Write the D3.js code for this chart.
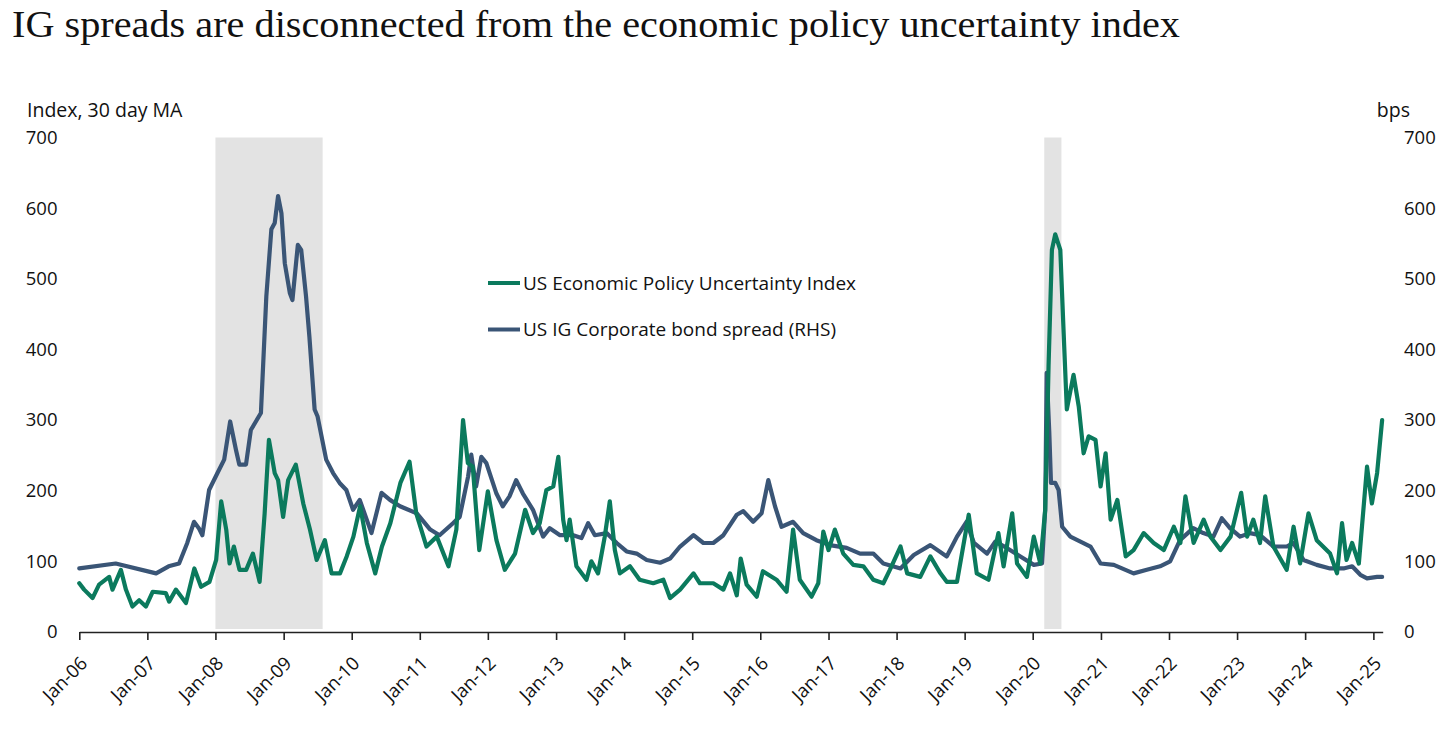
<!DOCTYPE html>
<html>
<head>
<meta charset="utf-8">
<script src="https://cdn.jsdelivr.net/npm/d3@7"></script>
<style>
  html, body { margin: 0; padding: 0; background: #ffffff; }
  svg { display: block; }
</style>
</head>
<body>
<svg id="chart" width="1456" height="732"></svg>
<script>
// ---------------- DATA ----------------
const titleText = "IG spreads are disconnected from the economic policy uncertainty index";
const leftAxisTitle = "Index, 30 day MA";
const rightAxisTitle = "bps";
const yTicks = [0, 100, 200, 300, 400, 500, 600, 700];
const xTickYears = [2006,2007,2008,2009,2010,2011,2012,2013,2014,2015,2016,2017,2018,2019,2020,2021,2022,2023,2024,2025];
const seriesNames = ["US Economic Policy Uncertainty Index", "US IG Corporate bond spread (RHS)"];
const recessionStarts = ["2008-01-01", "2020-03-03"];
const recessionEnds = ["2009-07-29", "2020-06-03"];

// US Economic Policy Uncertainty Index (left axis)
const epuDates = [
"2006-01-01","2006-01-27","2006-03-13","2006-04-17","2006-06-10","2006-06-28","2006-08-12","2006-09-08","2006-10-13","2006-11-18","2006-12-24",
"2007-01-30","2007-04-10","2007-04-28","2007-06-03","2007-07-27","2007-09-10","2007-10-16","2007-11-30",
"2008-01-05","2008-02-01","2008-02-28","2008-03-17","2008-04-09","2008-05-09","2008-06-14","2008-07-20","2008-08-25","2008-09-21","2008-10-14","2008-11-14","2008-12-02","2008-12-29",
"2009-01-25","2009-03-07","2009-04-16","2009-05-22","2009-06-27","2009-08-10","2009-09-15","2009-10-30","2009-12-05",
"2010-01-10","2010-02-15","2010-03-23","2010-05-07","2010-06-12","2010-07-27","2010-09-19","2010-11-07","2010-12-13",
"2011-02-06","2011-04-02","2011-06-04","2011-07-16","2011-08-21","2011-09-16","2011-10-12","2011-11-16",
"2012-01-01","2012-02-16","2012-04-01","2012-05-26","2012-07-19","2012-08-30","2012-10-05","2012-11-10","2012-12-17",
"2013-01-13","2013-02-08","2013-02-26","2013-03-15","2013-04-20","2013-06-13","2013-07-09","2013-08-14","2013-09-19","2013-10-16","2013-11-12","2013-12-09",
"2014-02-01","2014-03-25","2014-06-06","2014-07-30","2014-09-04","2014-10-28",
"2015-01-08","2015-02-11","2015-04-24","2015-06-17","2015-07-23","2015-08-28","2015-09-18","2015-10-20","2015-12-13",
"2016-01-15","2016-03-28","2016-05-21","2016-06-25","2016-07-31","2016-10-02","2016-11-07","2016-12-04",
"2017-01-01","2017-02-04","2017-03-21","2017-05-14","2017-07-07","2017-08-29","2017-10-22","2017-11-26",
"2018-01-22","2018-02-27","2018-05-08","2018-07-01","2018-08-24","2018-09-27","2018-11-21",
"2019-01-23","2019-03-07","2019-05-09","2019-07-01","2019-07-29","2019-09-13","2019-10-09","2019-12-01",
"2020-01-07","2020-02-11","2020-03-08","2020-03-26","2020-04-13","2020-05-01","2020-05-28","2020-06-15","2020-07-02","2020-08-07","2020-09-04","2020-09-30","2020-10-27","2020-12-03","2020-12-30",
"2021-01-26","2021-02-22","2021-03-30","2021-05-14","2021-06-25","2021-08-18","2021-10-11","2021-12-04",
"2022-01-27","2022-03-03","2022-03-30","2022-05-13","2022-07-06","2022-08-11","2022-10-04","2022-11-27",
"2023-01-23","2023-02-24","2023-03-29","2023-05-04","2023-06-01","2023-07-15","2023-09-24","2023-10-31","2023-12-05",
"2024-01-19","2024-03-03","2024-05-14","2024-06-20","2024-07-17","2024-08-10","2024-09-09","2024-10-15","2024-11-28","2024-12-24",
"2025-01-21","2025-02-17"
];
const epuValues = [
69,60,48,67,78,60,88,60,36,45,36,
57,55,43,60,41,90,64,71,
102,185,145,97,121,88,88,111,71,168,272,225,215,163,
215,237,182,145,102,130,83,83,107,
135,178,126,83,121,154,211,241,168,
121,135,93,145,300,239,234,116,
199,130,88,111,173,140,154,201,206,
248,159,130,159,93,74,100,83,135,185,116,83,
93,74,69,74,48,60,
83,69,69,60,83,52,104,67,50,
86,74,57,145,74,50,69,142,
116,145,111,95,93,74,69,88,
121,83,78,107,83,71,71,
166,83,74,140,93,168,97,78,
135,97,173,376,541,563,541,423,315,364,319,253,277,272,206,
253,159,187,107,116,140,126,116,
149,126,192,126,159,135,116,135,
197,135,159,126,192,121,88,149,97,
168,130,111,83,154,102,126,97,234,182,
225,300
];

// US IG Corporate bond spread, bps (right axis)
const spreadDates = [
"2006-01-01","2006-07-15","2007-02-17","2007-04-25","2007-06-20","2007-08-03","2007-09-08","2007-10-04","2007-10-23","2007-11-28",
"2008-01-12","2008-02-17","2008-03-20","2008-04-20","2008-05-08","2008-06-13","2008-07-09","2008-09-01","2008-09-30","2008-10-27","2008-11-14","2008-12-02","2008-12-20",
"2009-01-07","2009-02-03","2009-02-17","2009-03-18","2009-04-05","2009-05-01","2009-05-19","2009-06-16","2009-07-02","2009-08-17","2009-09-23","2009-10-28","2009-12-03",
"2010-01-08","2010-02-13","2010-04-17","2010-06-10","2010-07-25","2010-09-17","2010-12-16",
"2011-02-26","2011-04-17","2011-06-28","2011-08-03","2011-09-17","2011-10-04","2011-10-30","2011-11-27","2011-12-24",
"2012-02-16","2012-03-21","2012-04-26","2012-06-01","2012-07-07","2012-08-30","2012-10-23","2012-11-28",
"2013-01-22","2013-04-03","2013-05-17","2013-06-22","2013-07-28","2013-09-29","2013-11-22",
"2014-01-14","2014-03-09","2014-05-02","2014-07-13","2014-09-04","2014-10-28",
"2015-01-08","2015-03-02","2015-04-24","2015-06-17","2015-08-28","2015-10-02","2015-11-24",
"2016-01-08","2016-02-13","2016-03-20","2016-04-24","2016-06-25","2016-08-18","2016-10-28",
"2017-01-08","2017-04-08","2017-06-19","2017-08-29","2017-10-22",
"2018-01-22","2018-04-03","2018-07-01","2018-09-27","2018-11-21",
"2019-01-11","2019-02-20","2019-05-01","2019-06-14","2019-08-15","2019-10-27",
"2020-01-07","2020-02-20","2020-03-08","2020-03-16","2020-03-30","2020-04-08","2020-05-01","2020-05-19","2020-06-07","2020-07-21","2020-09-13","2020-11-06","2020-12-30",
"2021-03-11","2021-06-25","2021-09-04","2021-11-14",
"2022-01-07","2022-03-01","2022-05-11","2022-07-04","2022-08-27","2022-10-11","2022-11-24",
"2023-01-17","2023-03-12","2023-05-04","2023-07-15","2023-09-24","2023-10-30","2023-12-23",
"2024-03-03","2024-05-14","2024-07-25","2024-09-09","2024-10-23","2024-11-28",
"2025-01-21","2025-02-17"
];
const spreadValues = [
90,97,83,93,97,126,156,147,137,201,
225,244,298,258,237,237,286,310,475,570,579,617,593,
522,480,470,548,541,475,418,315,305,244,225,211,201,
173,187,140,197,187,178,168,
145,137,154,163,220,251,206,248,239,
196,178,192,215,196,173,135,147,
137,137,133,154,137,140,126,
114,111,102,98,104,121,
137,126,126,137,166,171,156,
168,215,178,149,156,140,130,
123,119,111,111,97,
90,109,123,107,135,
156,126,111,128,119,107,
95,97,173,367,282,211,211,201,149,135,128,121,97,
95,83,88,93,
100,130,147,140,135,161,147,
135,140,137,121,121,126,102,
95,90,90,93,81,76,
78,78
];

// ---------------- CHART ----------------
const svg = d3.select("#chart");
const parse = d3.timeParse("%Y-%m-%d");
const fontSans = "'Open Sans', 'Noto Sans', sans-serif";

const x = d3.scaleTime()
  .domain([parse("2006-01-01"), parse("2025-02-20")])
  .range([79.3, 1382.7]);
const yL = d3.scaleLinear().domain([0, 700]).range([632, 137.5]);
const yR = d3.scaleLinear().domain([0, 700]).range([632, 137.5]);

const colEPU = "#0b7a5d";
const colSpread = "#3a5576";

// Title
svg.append("text")
  .attr("x", 12).attr("y", 37)
  .attr("font-family", "'Liberation Serif', 'DejaVu Serif', serif")
  .attr("font-size", 38)
  .attr("fill", "#111")
  .attr("textLength", 1168)
  .attr("lengthAdjust", "spacingAndGlyphs")
  .text(titleText);

// Recession shading
svg.append("g").selectAll("rect")
  .data(recessionStarts.map((s, i) => ({s: parse(s), e: parse(recessionEnds[i])})))
  .join("rect")
  .attr("x", d => x(d.s))
  .attr("width", d => x(d.e) - x(d.s))
  .attr("y", yL(700))
  .attr("height", yL(0) - 3 - yL(700))
  .attr("fill", "#e3e3e3");

// Axis titles
svg.append("text").attr("x", 27).attr("y", 117)
  .attr("font-family", fontSans).attr("font-size", 19.5).attr("fill", "#111")
  .text(leftAxisTitle);
svg.append("text").attr("x", 1410).attr("y", 117).attr("text-anchor", "end")
  .attr("font-family", fontSans).attr("font-size", 19.5).attr("fill", "#111")
  .text(rightAxisTitle);

// Left y axis (labels only)
const gL = svg.append("g").attr("transform", "translate(57.5,0)")
  .call(d3.axisLeft(yL).tickValues(yTicks).tickSize(0).tickPadding(0).tickFormat(d3.format("d")));
gL.select(".domain").remove();
gL.selectAll("text").attr("font-family", fontSans).attr("font-size", 18.5).attr("fill", "#111");

// Right y axis (labels only)
const gR = svg.append("g").attr("transform", "translate(1404,0)")
  .call(d3.axisRight(yR).tickValues(yTicks).tickSize(0).tickPadding(0).tickFormat(d3.format("d")));
gR.select(".domain").remove();
gR.selectAll("text").attr("font-family", fontSans).attr("font-size", 18.5).attr("fill", "#111");

// X axis
const xTickDates = xTickYears.map(y => new Date(y, 0, 1));
const gX = svg.append("g").attr("transform", "translate(0,632)")
  .call(d3.axisBottom(x).tickValues(xTickDates).tickSize(8).tickSizeOuter(0).tickFormat(d3.timeFormat("%b-%y")));
gX.select(".domain").attr("stroke", "#222").attr("stroke-width", 1.6);
gX.selectAll(".tick line").attr("stroke", "#222").attr("stroke-width", 1.6);
gX.selectAll(".tick text")
  .attr("font-family", fontSans).attr("font-size", 18.5).attr("fill", "#111")
  .attr("text-anchor", "end")
  .attr("transform", "translate(4,28) rotate(-45)")
  .attr("x", 0).attr("y", 0).attr("dy", "0.35em");

// Lines
const epuData = epuDates.map((d, i) => ({d: parse(d), v: epuValues[i]}));
const spreadData = spreadDates.map((d, i) => ({d: parse(d), v: spreadValues[i]}));

svg.append("path").datum(spreadData)
  .attr("fill", "none").attr("stroke", colSpread).attr("stroke-width", 4.2)
  .attr("stroke-linejoin", "round").attr("stroke-linecap", "round")
  .attr("d", d3.line().x(d => x(d.d)).y(d => yR(d.v)));

svg.append("path").datum(epuData)
  .attr("fill", "none").attr("stroke", colEPU).attr("stroke-width", 4.2)
  .attr("stroke-linejoin", "round").attr("stroke-linecap", "round")
  .attr("d", d3.line().x(d => x(d.d)).y(d => yL(d.v)));

// Legend
const legend = svg.append("g");
const legendY = [283, 329.5];
const legendCol = [colEPU, colSpread];
seriesNames.forEach((name, i) => {
  legend.append("line").attr("x1", 488).attr("x2", 520)
    .attr("y1", legendY[i]).attr("y2", legendY[i])
    .attr("stroke", legendCol[i]).attr("stroke-width", 4);
  legend.append("text").attr("x", 523).attr("y", legendY[i]).attr("dy", "0.35em")
    .attr("font-family", fontSans).attr("font-size", 19).attr("fill", "#111")
    .text(name);
});
</script>
</body>
</html>
